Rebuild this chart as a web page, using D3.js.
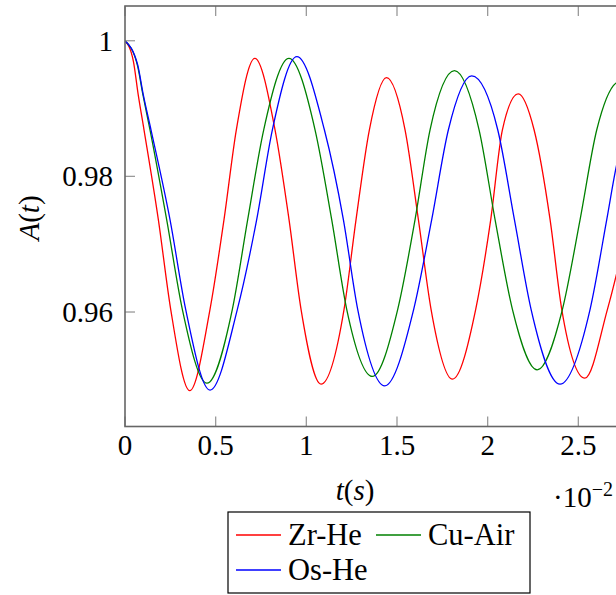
<!DOCTYPE html>
<html><head><meta charset="utf-8">
<script src="https://cdn.jsdelivr.net/npm/d3@7"></script>
<style>body{margin:0;background:#fff}svg{display:block}text{font-family:"Liberation Serif","DejaVu Serif",serif;}</style>
</head><body>
<script>
// time in units of 1e-2 s
const zrHeT = [0,0.046,0.073,0.1048,0.1839,0.252,0.357,0.4688,0.546,0.614,0.716,0.8274,0.9046,0.9708,1.081,1.208,1.2741,1.3477,1.442,1.5444,1.618,1.6878,1.806,1.934,2.0169,2.0813,2.169,2.2559,2.3442,2.4085,2.536,2.6605,2.90];
const zrHeA = [1,0.99700,0.99201,0.98687,0.97363,0.9604,0.9484,0.9604,0.97363,0.98687,0.99741,0.98687,0.97363,0.9604,0.94937,0.9604,0.97363,0.98687,0.99456,0.98687,0.97363,0.9604,0.9501,0.9604,0.97363,0.98687,0.99216,0.98687,0.97363,0.9604,0.95025,0.9604,0.9898];
const cuAirT = [0,0.068,0.099,0.1379,0.2298,0.3162,0.452,0.592,0.6766,0.765,0.904,1.048,1.1399,1.2227,1.364,1.504,1.5996,1.6823,1.817,1.9526,2.0408,2.1365,2.273,2.4123,2.5097,2.6017,2.73,2.86];
const cuAirA = [1,0.99643,0.99201,0.98687,0.97363,0.9604,0.94951,0.9604,0.97363,0.98687,0.99741,0.98687,0.97363,0.9604,0.9505,0.9604,0.97363,0.98687,0.99559,0.98687,0.97363,0.9604,0.95147,0.9604,0.97363,0.98687,0.9940,0.98687];
const osHeT = [0,0.070,0.101,0.1434,0.2482,0.3346,0.469,0.6196,0.7262,0.8127,0.948,1.0995,1.2043,1.2833,1.432,1.592,1.6914,1.7834,1.912,2.0555,2.1475,2.2394,2.399,2.5648,2.6567,2.708,2.87];
const osHeA = [1,0.99643,0.99201,0.98687,0.97363,0.9604,0.94849,0.9604,0.97363,0.98687,0.99765,0.98687,0.97363,0.9604,0.94912,0.9604,0.97363,0.98687,0.99481,0.98687,0.97363,0.9604,0.94937,0.9604,0.97363,0.98128,0.9925];
const seriesNames = ["Zr-He","Cu-Air","Os-He"];
const seriesColors = ["#ff0000","#008000","#0000ff"];
const xTicks = [0,0.5,1,1.5,2,2.5];
const yTicks = [0.96,0.98,1];

const W=616,H=595;
const svg=d3.select("body").append("svg").attr("width",W).attr("height",H);
const L=125,R=669,T=6,B=426.5;
const x=d3.scaleLinear().domain([0,3]).range([L,R]);
const y=d3.scaleLinear().domain([0.94312,1.00512]).range([B,T]);

svg.append("clipPath").attr("id","clip").append("rect").attr("x",L).attr("y",T).attr("width",R-L).attr("height",B-T);

const series=[[zrHeT,zrHeA],[cuAirT,cuAirA],[osHeT,osHeA]].map((s,i)=>({name:seriesNames[i],color:seriesColors[i],pts:s[0].map((t,j)=>[t,s[1][j]])}));
const line=d3.line().x(d=>x(d[0])).y(d=>y(d[1])).curve(d3.curveMonotoneX);
const g=svg.append("g").attr("clip-path","url(#clip)");
series.forEach(s=>g.append("path").attr("d",line(s.pts)).attr("fill","none").attr("stroke",s.color).attr("stroke-width",1.3));

// ticks (inside)
const tk=svg.append("g").attr("stroke","#999").attr("stroke-width",1.3);
xTicks.forEach(v=>{tk.append("line").attr("x1",x(v)).attr("x2",x(v)).attr("y1",B).attr("y2",B-10);
  tk.append("line").attr("x1",x(v)).attr("x2",x(v)).attr("y1",T).attr("y2",T+10);});
yTicks.forEach(v=>{tk.append("line").attr("x1",L).attr("x2",L+10).attr("y1",y(v)).attr("y2",y(v));
  tk.append("line").attr("x1",R).attr("x2",R-10).attr("y1",y(v)).attr("y2",y(v));});
// frame
svg.append("rect").attr("x",L).attr("y",T).attr("width",R-L).attr("height",B-T).attr("fill","none").attr("stroke","#666").attr("stroke-width",1.6);

// tick labels
svg.selectAll(".xl").data(xTicks).enter().append("text").attr("x",d=>x(d)).attr("y",455).attr("text-anchor","middle").attr("font-size",29).text(d=>d3.format("")(d));
svg.selectAll(".yl").data(yTicks).enter().append("text").attr("x",113).attr("y",d=>y(d)+10).attr("text-anchor","end").attr("font-size",29).text(d=>d3.format("")(d));

// axis labels
svg.append("text").attr("x",355).attr("y",500).attr("text-anchor","middle").attr("font-size",29).html('<tspan font-style="italic">t</tspan>(<tspan font-style="italic">s</tspan>)');
svg.append("text").attr("transform","translate(39,218) rotate(-90)").attr("text-anchor","middle").attr("font-size",29).html('<tspan font-style="italic">A</tspan>(<tspan font-style="italic">t</tspan>)');
svg.append("text").attr("x",553).attr("y",507).attr("font-size",29).html('·10<tspan dy="-11" font-size="20">−2</tspan>');

// legend
svg.append("rect").attr("x",228).attr("y",512).attr("width",302).attr("height",81).attr("fill","#fff").attr("stroke","#000").attr("stroke-width",1.2);
const leg=[{i:0,x:236,y:535},{i:1,x:376,y:535},{i:2,x:236,y:570}];
leg.forEach(e=>{const s=series[e.i];
  svg.append("line").attr("x1",e.x).attr("x2",e.x+45).attr("y1",e.y).attr("y2",e.y).attr("stroke",s.color).attr("stroke-width",1.3);
  svg.append("text").attr("x",e.x+52).attr("y",e.y+10).attr("font-size",30.5).text(s.name);});
</script>
</body></html>
